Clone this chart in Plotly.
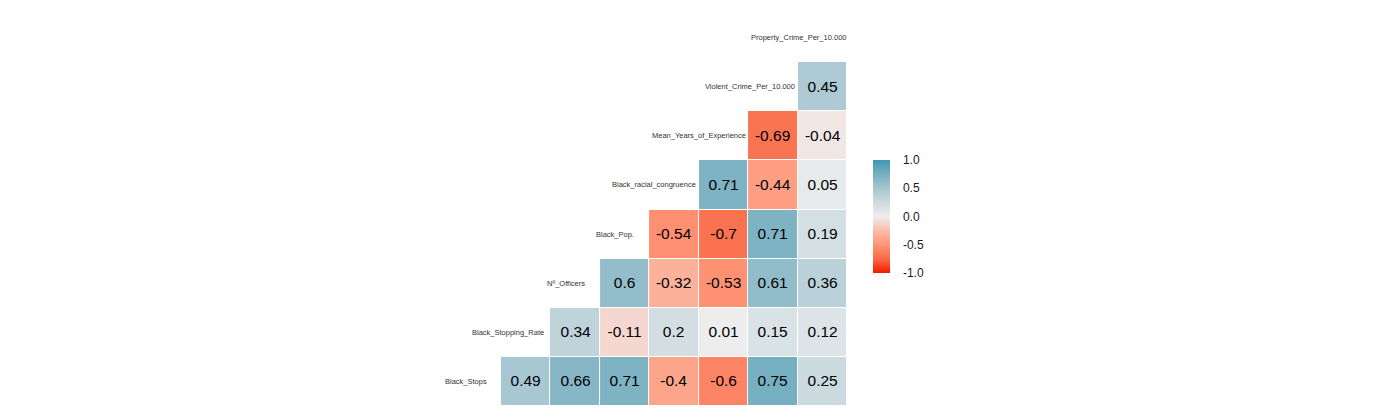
import plotly.graph_objects as go

# variables, bottom to top (ggcorr-style lower triangle)
variables = ["Black_Stops", "Black_Stopping_Rate", "Nº_Officers", "Black_Pop.",
             "Black_racial_congruence", "Mean_Years_of_Experience",
             "Violent_Crime_Per_10.000", "Property_Crime_Per_10.000"]

# correlation of each variable with the ones listed after it
black_stops = [0.49, 0.66, 0.71, -0.4, -0.6, 0.75, 0.25]
black_stopping_rate = [0.34, -0.11, 0.2, 0.01, 0.15, 0.12]
n_officers = [0.6, -0.32, -0.53, 0.61, 0.36]
black_pop = [-0.54, -0.7, 0.71, 0.19]
black_racial_congruence = [0.71, -0.44, 0.05]
mean_years_experience = [-0.69, -0.04]
violent_crime = [0.45]
property_crime = []

rows = [black_stops, black_stopping_rate, n_officers, black_pop,
        black_racial_congruence, mean_years_experience, violent_crime, property_crime]

ncol = len(variables) - 1
z, txt = [], []
for r, vals in enumerate(rows):
    pad = [None] * (ncol - len(vals))
    z.append(pad + vals)
    txt.append([""] * len(pad) + [f"{v:g}" for v in vals])

colorscale = [
    [0.0, "#F21A00"],
    [0.125, "#FA6946"],
    [0.25, "#FF9678"],
    [0.375, "#FBBCA8"],
    [0.5, "#EEEEEE"],
    [0.625, "#CBDADF"],
    [0.75, "#A6C6D1"],
    [0.875, "#76AFC1"],
    [1.0, "#3B9AB2"],
]

# page body has an 8px margin, so the figure sits 8px in from the window edge
W, H, OFF = 1378 - 16, 419 - 16, 8

fig = go.Figure()
fig.add_trace(go.Heatmap(
    z=z, x=list(range(ncol)), y=list(range(len(variables))),
    text=txt, texttemplate="%{text}",
    textfont=dict(size=15.5, color="black", family="Liberation Sans, Arial"),
    colorscale=colorscale, zmin=-1, zmax=1, xgap=1, ygap=1,
    hoverongaps=False,
    colorbar=dict(
        x=(873 - OFF) / W, xanchor="left", xpad=0,
        y=1 - (216.5 - OFF) / H, yanchor="middle", ypad=0,
        lenmode="pixels", len=113, thickness=17, outlinewidth=0,
        tickvals=[-1, -0.5, 0, 0.5, 1], ticktext=["-1.0", "-0.5", "0.0", "0.5", "1.0"],
        ticks="outside", ticklen=11, tickcolor="rgba(0,0,0,0)",
        tickfont=dict(size=12, color="#1a1a1a", family="Liberation Sans, Arial"),
    ),
))

# diagonal labels, ggcorr hjust = 0.75
lab_size = 7.5
for r, name in enumerate(variables):
    w = len(name) * lab_size * 0.5
    fig.add_annotation(x=r - 1, y=r, text=name, showarrow=False,
                       xanchor="right", xshift=0.25 * w + 2,
                       font=dict(size=lab_size, color="#333", family="Liberation Sans, Arial"))

fig.update_xaxes(range=[-1.5, 6.5], domain=[(451.6 - OFF) / W, (847 - OFF) / W], visible=False)
fig.update_yaxes(range=[-0.5, 7.5], domain=[1 - (406 - OFF) / H, 1 - (13 - OFF) / H], visible=False)
fig.update_layout(width=W, height=H, margin=dict(l=0, r=0, t=0, b=0, autoexpand=False),
                  plot_bgcolor="white", paper_bgcolor="white")
fig.write_html("out.html")
